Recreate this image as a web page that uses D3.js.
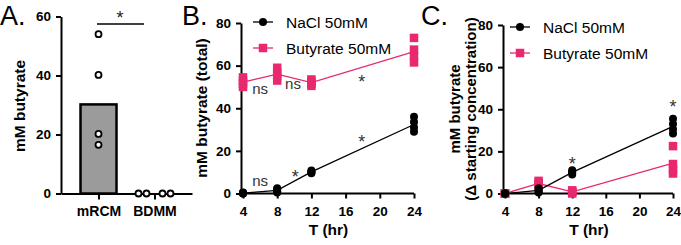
<!DOCTYPE html>
<html><head><meta charset="utf-8">
<script src="https://cdn.jsdelivr.net/npm/d3@7"></script>
<style>
html,body{margin:0;padding:0;background:#fff;}
svg{display:block;font-family:"Liberation Sans",Arial,Helvetica,sans-serif;}
</style></head>
<body><svg id="chart" width="681" height="245"></svg>
<script>
// ---------- DATA ----------
const categoriesA = ["mRCM", "BDMM"];
const barValuesA = [30.2, 0];
const pointsA_mRCM = [54, 40.2, 20.2, 16.5];
const pointsA_BDMM = [0, 0, 0, 0];
const yTicksA = [0, 20, 40, 60];

const timePoints = [4, 8, 12, 24];
const xTicks = [4, 8, 12, 16, 20, 24];
const yTicksBC = [0, 20, 40, 60, 80];
const seriesNames = ["NaCl 50mM", "Butyrate 50mM"];

// Panel B: total butyrate (replicates per time point)
const naclTotal = [[0, 0, 0.3, 0.5], [0.5, 1, 2, 2.5], [9.5, 10, 10.3, 10.8], [29, 31, 33.5, 36]];
const butyrateTotal = [[50, 51.5, 53, 54.5], [53, 55, 57, 59], [50.5, 51.5, 52.5, 53.5], [61.5, 64.5, 67.5, 73]];
// Panel C: delta from starting concentration
const naclDelta = [[0, 0, 0, 0], [0.5, 1, 1.8, 2.5], [9, 9.8, 10.3, 11], [28.5, 30.5, 33, 35.5]];
const butyrateDelta = [[0, 0, 0, 0], [3.5, 4.5, 5, 6], [0, 0.5, 1, 1.5], [9.5, 11.5, 14, 22.5]];

// significance annotations (data coordinates)
const annotB = [
  {t: 6, v: 48.7, text: "ns"}, {t: 9.85, v: 51, text: "ns"}, {t: 17.9, v: 54, text: "*"},
  {t: 6, v: 5.4, text: "ns"}, {t: 10.1, v: 9.6, text: "*"}, {t: 17.9, v: 26, text: "*"}
];
const annotC = [{t: 12, v: 16, text: "*"}, {t: 24, v: 43, text: "*"}];

// ---------- DRAW ----------
const svg = d3.select("#chart");
const PINK = "#e8286f";
const BLACK = "#000";
const mean = a => d3.mean(a);

function styleAxis(g) {
  g.selectAll("path").attr("stroke", "#000").attr("stroke-width", 2);
  g.selectAll("line").attr("stroke", "#000").attr("stroke-width", 2);
  g.selectAll("text").attr("fill", "#000").attr("font-size", "13.5px").attr("font-weight", "bold")
    .attr("font-family", '"Liberation Sans",Arial,sans-serif');
}

function panelLabel(text, x) {
  svg.append("text").attr("x", x).attr("y", 25).attr("font-size", "27px").text(text);
}

// ----- Panel A -----
{
  const y = d3.scaleLinear().domain([0, 60]).range([193.5, 16.5]);
  const x = d3.scalePoint().domain(categoriesA).range([61, 192]).padding(0.67);
  const bw = 36;
  svg.append("g").selectAll("rect").data(categoriesA).join("rect")
    .attr("x", d => x(d) - bw / 2).attr("width", bw)
    .attr("y", (d, i) => y(barValuesA[i])).attr("height", (d, i) => y(0) - y(barValuesA[i]))
    .attr("fill", "#9b9b9b").attr("stroke", "#000").attr("stroke-width", 2.5);
  const ga = svg.append("g").attr("transform", "translate(61,0)")
    .call(d3.axisLeft(y).tickValues(yTicksA).tickSize(5).tickPadding(5).tickSizeOuter(0));
  styleAxis(ga);
  const gx = svg.append("g").attr("transform", "translate(0,193.5)")
    .call(d3.axisBottom(x).tickSize(6).tickPadding(7).tickSizeOuter(0));
  styleAxis(gx);
  gx.selectAll("text").attr("font-size", "14px");
  // points
  svg.append("g").selectAll("circle").data(pointsA_mRCM).join("circle")
    .attr("cx", x("mRCM")).attr("cy", d => y(d)).attr("r", 3)
    .attr("fill", "#fff").attr("stroke", "#000").attr("stroke-width", 1.8);
  const offs = [-16, -8, 8, 16];
  svg.append("g").selectAll("circle").data(pointsA_BDMM).join("circle")
    .attr("cx", (d, i) => x("BDMM") + offs[i]).attr("cy", d => y(d)).attr("r", 3)
    .attr("fill", "#fff").attr("stroke", "#000").attr("stroke-width", 1.8);
  // significance
  svg.append("line").attr("x1", 97).attr("x2", 144).attr("y1", 24).attr("y2", 24)
    .attr("stroke", "#000").attr("stroke-width", 1.3);
  svg.append("text").attr("x", 120).attr("y", 24).attr("text-anchor", "middle")
    .attr("font-size", "18px").attr("fill", "#222").text("*");
  svg.append("text").attr("transform", "translate(25,106) rotate(-90)").attr("text-anchor", "middle")
    .attr("font-size", "15.5px").attr("font-weight", "bold").text("mM butyrate");
  panelLabel("A.", 0);
}

function timePanel(opt) {
  const x = d3.scaleLinear().domain([4, 24]).range([opt.x0, opt.x1]);
  const y = d3.scaleLinear().domain([0, 80]).range([193.5, opt.yTop]);
  const gy = svg.append("g").attr("transform", `translate(${opt.x0 - 2},0)`)
    .call(d3.axisLeft(y).tickValues(yTicksBC).tickSize(5).tickPadding(5).tickSizeOuter(0));
  styleAxis(gy);
  const gx = svg.append("g").attr("transform", "translate(0,193.5)")
    .call(d3.axisBottom(x).tickValues(xTicks).tickSize(5).tickPadding(8).tickSizeOuter(0));
  styleAxis(gx);
  gx.select("path").attr("d", `M${opt.x0 - 2},0H${opt.x1}`);

  const series = [
    {name: seriesNames[1], data: opt.but, color: PINK, shape: "square"},
    {name: seriesNames[0], data: opt.nacl, color: BLACK, shape: "circle"}
  ];
  const line = d3.line().x((d, i) => x(timePoints[i])).y(d => y(mean(d)));
  series.forEach(s => {
    svg.append("path").datum(s.data).attr("d", line).attr("fill", "none")
      .attr("stroke", s.color).attr("stroke-width", 1.3);
    const pts = s.data.flatMap((arr, i) => arr.map(v => ({t: timePoints[i], v})));
    if (s.shape === "circle") {
      svg.append("g").selectAll("circle").data(pts).join("circle")
        .attr("cx", d => x(d.t)).attr("cy", d => y(d.v)).attr("r", 4).attr("fill", s.color);
    } else {
      const sz = 8.5;
      svg.append("g").selectAll("rect").data(pts).join("rect")
        .attr("x", d => x(d.t) - sz / 2).attr("y", d => y(d.v) - sz / 2)
        .attr("width", sz).attr("height", sz).attr("fill", s.color);
    }
  });
  // legend
  const leg = [
    {name: seriesNames[0], color: BLACK, shape: "circle", yy: opt.legY},
    {name: seriesNames[1], color: PINK, shape: "square", yy: opt.legY + 26}
  ];
  leg.forEach(l => {
    svg.append("line").attr("x1", opt.legX - 10).attr("x2", opt.legX + 10).attr("y1", l.yy).attr("y2", l.yy)
      .attr("stroke", l.color).attr("stroke-width", 1.3);
    if (l.shape === "circle") svg.append("circle").attr("cx", opt.legX).attr("cy", l.yy).attr("r", 4).attr("fill", l.color);
    else svg.append("rect").attr("x", opt.legX - 4.25).attr("y", l.yy - 4.25).attr("width", 8.5).attr("height", 8.5).attr("fill", l.color);
    svg.append("text").attr("x", opt.legX + 23).attr("y", l.yy + 5.5).attr("font-size", "15.5px").text(l.name);
  });
  // annotations
  opt.annot.forEach(a => {
    const isStar = a.text === "*";
    svg.append("text").attr("x", x(a.t)).attr("y", y(a.v) + (isStar ? 10 : 4.5)).attr("text-anchor", "middle")
      .attr("font-size", isStar ? "18px" : "15px").attr("fill", "#333").text(a.text);
  });
  svg.append("text").attr("x", (opt.x0 + opt.x1) / 2).attr("y", 235).attr("text-anchor", "middle")
    .attr("font-size", "15.5px").attr("font-weight", "bold").text("T (hr)");
  return {x, y};
}

// ----- Panel B -----
timePanel({x0: 243, x1: 414, yTop: 23, nacl: naclTotal, but: butyrateTotal, legX: 263, legY: 22, annot: annotB});
svg.append("text").attr("transform", "translate(207,108) rotate(-90)").attr("text-anchor", "middle")
  .attr("font-size", "15.5px").attr("font-weight", "bold").text("mM butyrate (total)");
panelLabel("B.", 182);

// ----- Panel C -----
timePanel({x0: 505, x1: 673, yTop: 25, nacl: naclDelta, but: butyrateDelta, legX: 520, legY: 27, annot: annotC});
svg.append("text").attr("transform", "translate(460,109) rotate(-90)").attr("text-anchor", "middle")
  .attr("font-size", "15px").attr("font-weight", "bold").text("mM butyrate");
svg.append("text").attr("transform", "translate(476,109) rotate(-90)").attr("text-anchor", "middle")
  .attr("font-size", "15px").attr("font-weight", "bold").text("(Δ starting concentration)");
panelLabel("C.", 421);
</script></body></html>
